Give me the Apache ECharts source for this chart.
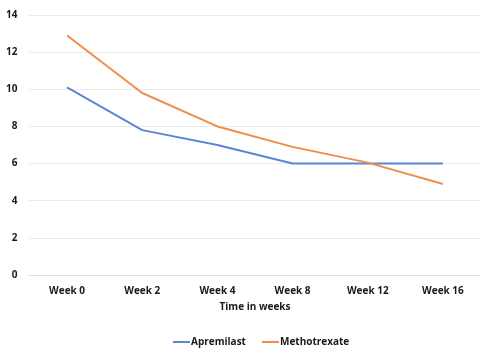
<!DOCTYPE html>
<html>
<head>
<meta charset="utf-8">
<script src="https://cdn.jsdelivr.net/npm/echarts@6/dist/echarts.min.js"></script>
<style>
  html, body { margin: 0; padding: 0; background: #fff; }
  #chart { width: 481px; height: 350px; }
</style>
</head>
<body>
<div id="chart"></div>
<script>
// chart data
const weeks = ['Week 0', 'Week 2', 'Week 4', 'Week 8', 'Week 12', 'Week 16'];
const apremilast = [10.1, 7.8, 7.0, 6.0, 6.0, 6.0];
const methotrexate = [12.9, 9.8, 8.0, 6.9, 6.05, 4.9];

const font = 'Open Sans, Liberation Sans, sans-serif';

const myChart = echarts.init(document.getElementById('chart'));

const option = {
  animation: false,
  grid: { left: 29.5, right: 0.5, top: 15, bottom: 75, containLabel: false },
  legend: {
    top: 337,
    left: 173,
    padding: 0,
    itemWidth: 17,
    itemHeight: 2,
    itemGap: 16,
    icon: 'rect',
    textStyle: { fontFamily: font, fontWeight: 'bold', fontSize: 10, color: '#1a1a1a', padding: [0, 0, 0, -4] },
    data: ['Apremilast', 'Methotrexate']
  },
  xAxis: {
    type: 'category',
    data: weeks,
    boundaryGap: true,
    name: 'Time in weeks',
    nameLocation: 'middle',
    nameGap: 27,
    nameTextStyle: { fontFamily: font, fontWeight: 'bold', fontSize: 10, color: '#1a1a1a' },
    axisLine: { lineStyle: { color: '#e0e0e0' } },
    axisTick: { show: false },
    axisLabel: { fontFamily: font, fontWeight: 'bold', fontSize: 10, color: '#1a1a1a', margin: 11 }
  },
  yAxis: {
    type: 'value',
    min: 0,
    max: 14,
    interval: 2,
    axisLine: { show: false },
    axisTick: { show: false },
    axisLabel: { fontFamily: font, fontWeight: 'bold', fontSize: 10, color: '#1a1a1a', margin: 12 },
    splitLine: { lineStyle: { color: '#eaeaea' } }
  },
  series: [
    {
      name: 'Apremilast',
      type: 'line',
      data: apremilast,
      showSymbol: false,
      lineStyle: { width: 2, color: '#5b86d6' },
      itemStyle: { color: '#5b86d6' }
    },
    {
      name: 'Methotrexate',
      type: 'line',
      data: methotrexate,
      showSymbol: false,
      lineStyle: { width: 2, color: '#f08c4c' },
      itemStyle: { color: '#f08c4c' }
    }
  ]
};

myChart.setOption(option);
</script>
</body>
</html>
